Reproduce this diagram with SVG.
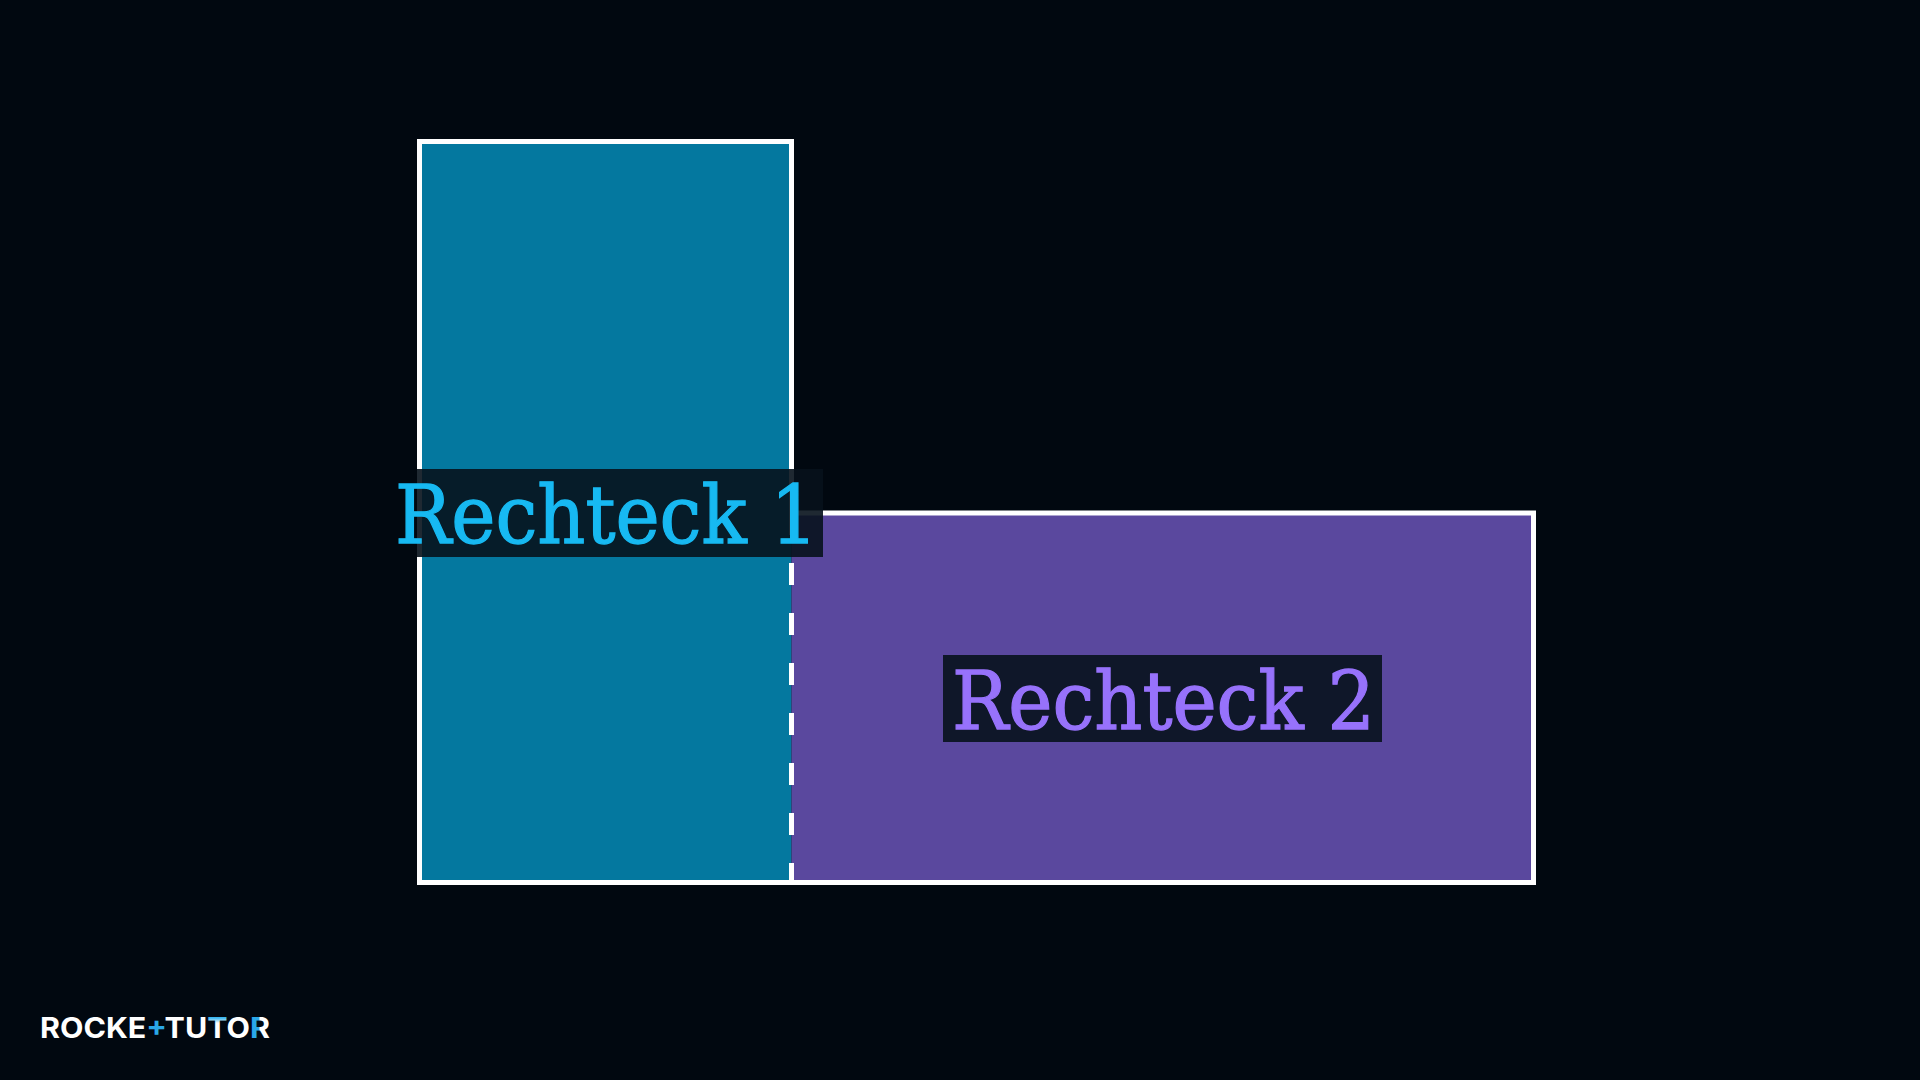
<svg xmlns="http://www.w3.org/2000/svg" width="1920" height="1080" viewBox="0 0 1920 1080">
  <defs>
    <linearGradient id="gr" gradientUnits="userSpaceOnUse" x1="250" y1="0" x2="270" y2="0">
      <stop offset="0" stop-color="#2aa8e8"/>
      <stop offset="0.45" stop-color="#2aa8e8"/>
      <stop offset="0.5" stop-color="#ffffff"/>
      <stop offset="1" stop-color="#ffffff"/>
    </linearGradient>
    <linearGradient id="gt" gradientUnits="userSpaceOnUse" x1="0" y1="1018" x2="0" y2="1038">
      <stop offset="0" stop-color="#3bb6f0"/>
      <stop offset="0.25" stop-color="#ffffff"/>
      <stop offset="1" stop-color="#ffffff"/>
    </linearGradient>
  </defs>
  <style>
    .lbl { font-family: "DejaVu Serif", "Liberation Serif", serif; font-size: 80px; stroke-width: 1.3; }
    .box { fill: #07121c; fill-opacity: 0.9; }
    .edge { fill: none; stroke: #ffffff; stroke-width: 5; stroke-linejoin: miter; }
    .logo { font-family: Inter, "Liberation Sans", sans-serif; font-weight: 700; font-size: 28px; fill: #ffffff; }
  </style>
  <rect x="0" y="0" width="1920" height="1080" fill="#010810"/>

  <g id="rechteck1">
    <rect x="419.5" y="141.5" width="372" height="741" fill="#04789f"/>
  </g>
  <g id="rechteck2">
    <rect x="791.5" y="513" width="742" height="369.5" fill="#5a489e"/>
  </g>

  <g id="connectors">
    <path class="edge" d="M791.5 513 L791.5 141.5 L419.5 141.5 L419.5 882.5 L1533.5 882.5 L1533.5 513 L791.5 513"/>
    <line x1="791.5" y1="513" x2="791.5" y2="882.5" stroke="#ffffff" stroke-width="5" stroke-dasharray="22 28"/>
  </g>

  <g id="label1">
    <rect class="box" x="417" y="469" width="406" height="88"/>
    <text class="lbl" x="395" y="543" fill="#17b9f2" stroke="#17b9f2" textLength="423" lengthAdjust="spacingAndGlyphs">Rechteck 1</text>
  </g>
  <g id="label2">
    <rect class="box" x="943" y="655" width="439" height="87"/>
    <text class="lbl" x="952" y="729" fill="#9772fb" stroke="#9772fb" textLength="423" lengthAdjust="spacingAndGlyphs">Rechteck 2</text>
  </g>

  <g id="logo">
    <text class="logo" x="40" y="1038" textLength="230" lengthAdjust="spacingAndGlyphs">ROCKE<tspan fill="#2aa8e8">+</tspan>TU<tspan fill="url(#gt)">T</tspan>O<tspan fill="url(#gr)">R</tspan></text>
  </g>
</svg>
